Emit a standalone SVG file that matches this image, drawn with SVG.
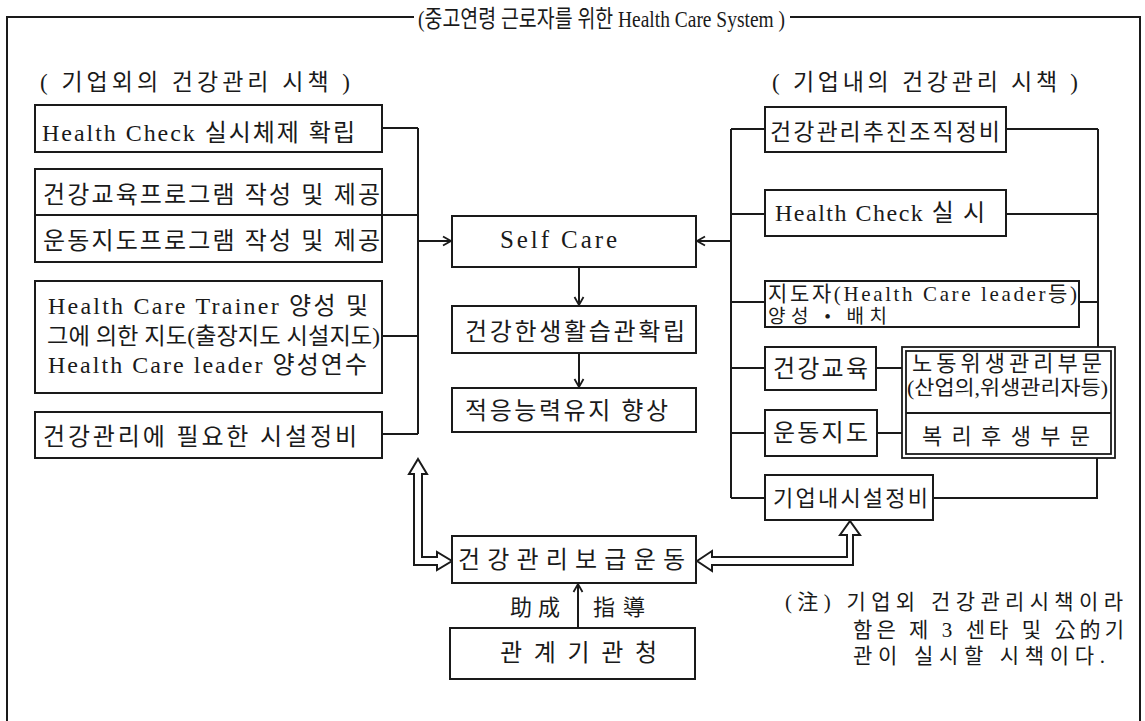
<svg xmlns="http://www.w3.org/2000/svg" width="1145" height="721" viewBox="0 0 1145 721">
<style>
.box{fill:#fff;stroke:#1a1a1a;stroke-width:2}
.ln{fill:none;stroke:#1a1a1a;stroke-width:2}
.hol{fill:#fff;stroke:#1a1a1a;stroke-width:2;stroke-linejoin:miter}
.t{font-family:"Liberation Serif","Noto Sans CJK KR",serif;font-size:24px;fill:#1a1a1a}
.m{font-size:22px}
.s{font-size:21px}
</style>
<defs>
<marker id="ah" markerWidth="12" markerHeight="12" refX="10" refY="6" orient="auto" markerUnits="userSpaceOnUse">
<path d="M2,1.5 L10,6 L2,10.5" fill="none" stroke="#1a1a1a" stroke-width="1.8"/>
</marker>
</defs>
<rect width="1145" height="721" fill="#fff"/>
<g id="frame">
<path class="ln" d="M7,721 V17 H414 M790,17 H1140 V721"/>
<text class="t" x="418" y="27" textLength="367" lengthAdjust="spacingAndGlyphs" style="font-size:24px">(중고연령 근로자를 위한 Health Care System )</text>
</g>
<g id="headers">
<text class="t" x="40" y="90" textLength="310" style="font-size:23px">( 기업외의 건강관리 시책 )</text>
<text class="t" x="772" y="90" textLength="306" style="font-size:23px">( 기업내의 건강관리 시책 )</text>
</g>
<g id="connectors">
<path class="ln" d="M382,128 H418 M382,215 H418 M382,336 H418 M382,434 H418 M418,128 V434"/>
<path class="ln" d="M418,241 H451" marker-end="url(#ah)"/>
<path class="ln" d="M731,129 V498 M731,129 H765 M731,214 H765 M731,302 H765 M731,368 H765 M731,433 H765 M731,498 H765"/>
<path class="ln" d="M731,241 H697" marker-end="url(#ah)"/>
<path class="ln" d="M1006,129 H1098 M1006,214 H1098 M1079,302 H1098 M1098,129 V347"/>
<path class="ln" d="M876,368 H902 M877,433 H902 M1097,458 V498 H933"/>
<path class="ln" d="M579,267 V305" marker-end="url(#ah)"/>
<path class="ln" d="M579,353 V387" marker-end="url(#ah)"/>
<path class="ln" d="M578,628 V584" marker-end="url(#ah)"/>
<path class="hol" d="M418,459 L427,474 L422,474 L422,557 L437,557 L437,552 L452,561 L437,570 L437,565 L414,565 L414,474 L409,474 Z"/>
<path class="hol" d="M697,561 L712,551 L712,557 L847,557 L847,535 L840,535 L850,521 L860,535 L853,535 L853,565 L712,565 L712,571 Z"/>
</g>
<g id="n-hc-system">
<rect class="box" x="35" y="105" width="347" height="47"/>
<text class="t" x="42" y="141" textLength="313">Health Check 실시체제 확립</text>
</g>
<g id="n-programs">
<rect class="box" x="35" y="169" width="347" height="93"/>
<path class="ln" d="M35,215 H382"/>
<text class="t" x="43" y="203" textLength="337">건강교육프로그램 작성 및 제공</text>
<text class="t" x="43" y="249" textLength="337">운동지도프로그램 작성 및 제공</text>
</g>
<g id="n-trainer">
<rect class="box" x="35" y="281" width="347" height="112"/>
<text class="t" x="48" y="314" textLength="320">Health Care Trainer 양성 및</text>
<text class="t" x="47" y="344" textLength="333" lengthAdjust="spacingAndGlyphs" style="font-size:23px">그에 의한 지도(출장지도 시설지도)</text>
<text class="t" x="48" y="373" textLength="319">Health Care leader 양성연수</text>
</g>
<g id="n-facility-out">
<rect class="box" x="35" y="412" width="347" height="46"/>
<text class="t" x="43" y="445" textLength="314">건강관리에 필요한 시설정비</text>
</g>
<g id="n-selfcare">
<rect class="box" x="452" y="216" width="244" height="51"/>
<text class="t" x="500" y="248" textLength="117" style="font-size:25px">Self Care</text>
</g>
<g id="n-habit">
<rect class="box" x="452" y="306" width="244" height="47"/>
<text class="t" x="465" y="340" textLength="220">건강한생활습관확립</text>
</g>
<g id="n-adapt">
<rect class="box" x="452" y="388" width="244" height="44"/>
<text class="t" x="465" y="419" textLength="203">적응능력유지 향상</text>
</g>
<g id="n-org">
<rect class="box" x="765" y="107" width="241" height="45"/>
<text class="t" x="770" y="140" textLength="230" style="font-size:23px">건강관리추진조직정비</text>
</g>
<g id="n-check">
<rect class="box" x="765" y="190" width="241" height="46"/>
<text class="t" x="775" y="221" textLength="210">Health Check 실 시</text>
</g>
<g id="n-leader">
<rect class="box" x="765" y="281" width="314" height="46"/>
<text class="t" x="768" y="301" textLength="309" style="font-size:21px">지도자(Health Care leader등)</text>
<text class="t" x="768" y="323" textLength="119" style="font-size:19px">양성 • 배치</text>
</g>
<g id="n-edu">
<rect class="box" x="765" y="347" width="111" height="43"/>
<text class="t" x="773" y="377" textLength="95">건강교육</text>
</g>
<g id="n-exercise">
<rect class="box" x="765" y="410" width="112" height="46"/>
<text class="t" x="773" y="441" textLength="95">운동지도</text>
</g>
<g id="n-facility-in">
<rect class="box" x="765" y="475" width="168" height="45"/>
<text class="t m" x="773" y="506" textLength="155">기업내시설정비</text>
</g>
<g id="n-dept">
<rect class="box" x="902" y="347" width="213" height="111" style="stroke-width:1.8"/>
<rect class="box" x="906" y="351" width="205" height="103" style="stroke-width:1.8"/>
<path class="ln" d="M906,413 H1111" style="stroke-width:1.8"/>
<text class="t m" x="912" y="371" textLength="190">노동위생관리부문</text>
<text class="t" x="907" y="395" textLength="201" lengthAdjust="spacingAndGlyphs" style="font-size:20px">(산업의,위생관리자등)</text>
<text class="t m" x="922" y="444" textLength="168">복 리 후 생 부 문</text>
</g>
<g id="n-campaign">
<rect class="box" x="452" y="536" width="244" height="47"/>
<text class="t" x="458" y="568" textLength="227">건강관리보급운동</text>
</g>
<g id="labels">
<text class="t m" x="510" y="615" textLength="50">助成</text>
<text class="t m" x="593" y="615" textLength="52">指導</text>
</g>
<g id="n-agency">
<rect class="box" x="450" y="628" width="245" height="51"/>
<text class="t" x="500" y="661" textLength="157">관계기관청</text>
</g>
<g id="note">
<text class="t s" x="785" y="609" textLength="338">(注) 기업외 건강관리시책이라</text>
<text class="t s" x="853" y="637" textLength="271">함은 제 3 센타 및 公的기</text>
<text class="t s" x="853" y="663" textLength="252">관이 실시할 시책이다.</text>
</g>
</svg>
